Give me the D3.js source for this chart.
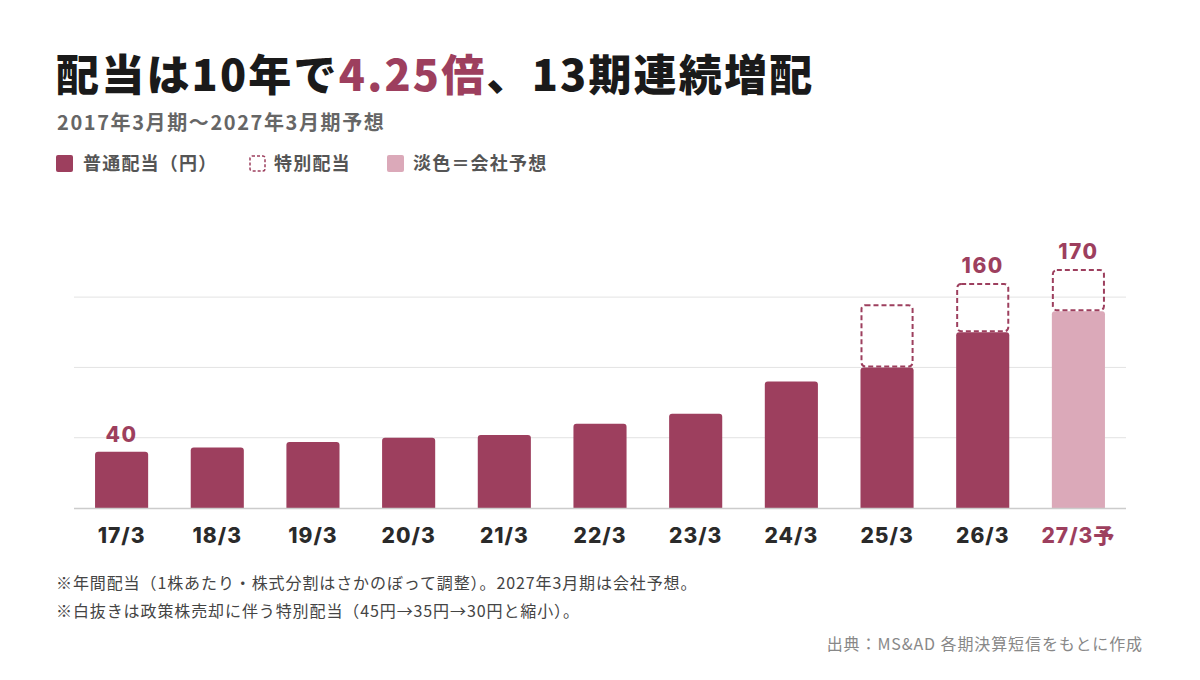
<!DOCTYPE html>
<html><head><meta charset="utf-8">
<script src="https://cdn.jsdelivr.net/npm/d3@7"></script>
<style>
body{margin:0;background:#fff;}
svg{font-family:"Noto Sans CJK JP","Noto Sans",sans-serif;}
</style></head>
<body><svg id="chart" width="1200" height="680"></svg>
<script>
const periods = ["17/3","18/3","19/3","20/3","21/3","22/3","23/3","24/3","25/3","26/3","27/3予"];
const regular = [40,43,47,50,52,60,67,90,100,125,140];
const special = [0,0,0,0,0,0,0,0,45,35,30];
const forecast = [false,false,false,false,false,false,false,false,false,false,true];
const labels = {"17/3":"40","26/3":"160","27/3予":"170"};
const gridTicks = [50,100,150];

const dark = "#9D3F5E", light = "#DBA9B9";
const svg = d3.select("#chart");

const x = d3.scaleBand().domain(periods).range([74,1126]).paddingInner(0.445).paddingOuter(0.22);
const y = d3.scaleLinear().domain([0,170]).range([508,269]);

// title
const t = svg.append("text").attr("x",56).attr("y",91).attr("font-size",43).attr("font-weight",900)
  .attr("letter-spacing",2.2).attr("fill","#1a1a1a");
t.append("tspan").text("配当は10年で");
t.append("tspan").attr("fill",dark).text("4.25倍");
t.append("tspan").text("、13期連続増配");
svg.append("text").attr("x",57).attr("y",130).attr("font-size",20).attr("font-weight",700).attr("fill","#666")
  .attr("letter-spacing",1.6).text("2017年3月期〜2027年3月期予想");

// legend
const lg = svg.append("g").attr("font-size",18).attr("font-weight",700).attr("fill","#555").attr("letter-spacing",1.2);
lg.append("rect").attr("x",56).attr("y",155).attr("width",17).attr("height",17).attr("rx",2).attr("fill",dark);
lg.append("text").attr("x",83).attr("y",170).text("普通配当（円）");
lg.append("rect").attr("x",250).attr("y",156).attr("width",15).attr("height",15).attr("rx",2)
  .attr("fill","none").attr("stroke",dark).attr("stroke-width",1.5).attr("stroke-dasharray","3,2");
lg.append("text").attr("x",274).attr("y",170).text("特別配当");
lg.append("rect").attr("x",387).attr("y",155).attr("width",17).attr("height",17).attr("rx",2).attr("fill",light);
lg.append("text").attr("x",413).attr("y",170).text("淡色＝会社予想");

// grid
svg.append("g").selectAll("line").data(gridTicks).join("line")
  .attr("x1",74).attr("x2",1126).attr("y1",d=>y(d)).attr("y2",d=>y(d))
  .attr("stroke","#e3e3e3").attr("stroke-width",1);

// bars
const bw = x.bandwidth();
svg.append("g").selectAll("path").data(periods).join("path")
  .attr("fill",(d,i)=>forecast[i]?light:dark)
  .attr("d",(d,i)=>{
    const x0=x(d), y0=y(regular[i]), r=3, yb=y(0);
    return `M${x0},${yb}V${y0+r}Q${x0},${y0} ${x0+r},${y0}H${x0+bw-r}Q${x0+bw},${y0} ${x0+bw},${y0+r}V${yb}Z`;
  });

svg.append("g").selectAll("rect").data(periods.filter((d,i)=>special[i]>0)).join("rect")
  .attr("x",d=>x(d)+1).attr("width",bw-2)
  .attr("y",d=>{const i=periods.indexOf(d);return y(regular[i]+special[i])+1;})
  .attr("height",d=>{const i=periods.indexOf(d);return y(regular[i])-y(regular[i]+special[i])-2;})
  .attr("rx",4).attr("fill","none").attr("stroke",dark).attr("stroke-width",2).attr("stroke-dasharray","5,3");

// baseline
svg.append("line").attr("x1",74).attr("x2",1126).attr("y1",y(0)+0.5).attr("y2",y(0)+0.5).attr("stroke","#ccc").attr("stroke-width",1.5);

// value labels
svg.append("g").selectAll("text").data(periods.filter(d=>labels[d])).join("text")
  .attr("x",d=>x(d)+bw/2)
  .attr("y",d=>{const i=periods.indexOf(d);return y(regular[i]+special[i])-10;})
  .attr("text-anchor","middle").attr("font-size",21).attr("font-weight",800).attr("fill",dark)
  .attr("letter-spacing",1.5)
  .attr("font-family","Inter,'Noto Sans',sans-serif").text(d=>labels[d]);

// x axis
const ax = svg.append("g").attr("transform",`translate(0,${y(0)})`)
  .call(d3.axisBottom(x).tickSize(0).tickPadding(20));
ax.select(".domain").remove();
ax.selectAll("text").attr("font-size",21).attr("font-weight",800)
  .attr("font-family","Inter,'Noto Sans CJK JP',sans-serif").attr("letter-spacing",1)
  .attr("fill",(d,i)=>forecast[i]?dark:"#2a2a2a");

// notes
const nt = svg.append("g").attr("font-size",16).attr("fill","#444").attr("letter-spacing",0.9);
nt.append("text").attr("x",56).attr("y",589).text("※年間配当（1株あたり・株式分割はさかのぼって調整）。2027年3月期は会社予想。");
nt.append("text").attr("x",56).attr("y",617).text("※白抜きは政策株売却に伴う特別配当（45円→35円→30円と縮小）。");
svg.append("text").attr("x",1143).attr("y",650).attr("text-anchor","end").attr("font-size",16).attr("fill","#888")
  .attr("letter-spacing",0.9).text("出典：MS&AD 各期決算短信をもとに作成");
</script></body></html>
